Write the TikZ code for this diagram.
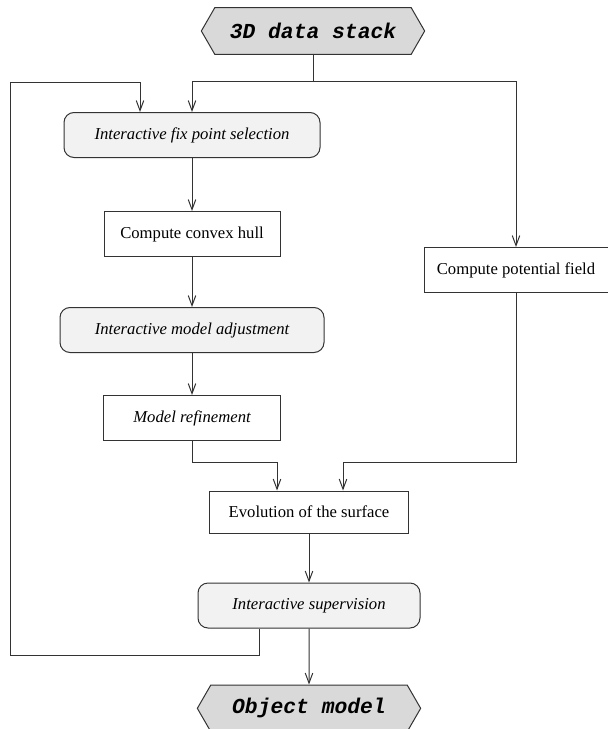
\documentclass[tikz,border=0pt]{standalone}
\usepackage{fontspec}
\setmainfont{Liberation Serif}
\setmonofont{Liberation Mono}
\usetikzlibrary{arrows.meta,positioning,calc,shapes.symbols}
\definecolor{termgray}{HTML}{D9D9D9}
\definecolor{softgray}{HTML}{F2F2F2}
\definecolor{linegray}{HTML}{333333}
\tikzset{
  proc/.style={
    rectangle,
    draw=linegray,
    fill=white,
    line width=0.6pt,
    align=center,
    minimum height=27pt,
    inner sep=0pt,
    font=\fontsize{10}{12}\selectfont
  },
  inter/.style={
    proc,
    rounded corners=6pt,
    fill=softgray,
    font=\fontsize{10}{12}\selectfont\itshape
  },
  term/.style={
    signal,
    signal to=west and east,
    signal pointer angle=120,
    draw=linegray,
    fill=termgray,
    line width=0.6pt,
    minimum width=134pt,
    minimum height=28pt,
    inner sep=0pt,
    font=\fontsize{12.8}{15}\selectfont\ttfamily\bfseries\itshape
  },
  line/.style={-{Straight Barb[length=6pt,width=4.5pt]}, line width=0.6pt, draw=linegray}
}

\begin{document}
\begin{tikzpicture}[x=0.6pt,y=-0.6pt]
  \useasboundingbox (0,0) rectangle (608,729);

  \node[term] (stack) at (313,31) {3D data stack};
  \node[inter, minimum width=153.6pt] (fixsel) at (192,135) {Interactive fix point selection};
  \node[proc, minimum width=105.6pt, below=31.8pt of fixsel] (hull) {Compute convex hull};
  \node[inter, minimum width=158.4pt, below=30pt of hull] (adjust) {Interactive model adjustment};
  \node[proc, minimum width=106.2pt, below=25.2pt of adjust, font=\fontsize{10}{12}\selectfont\itshape] (refine) {Model refinement};
  \node[proc, minimum width=110.4pt] (potential) at (516,270) {Compute potential field};
  \node[proc, minimum width=119.4pt, minimum height=25.2pt] (evol) at (309,512) {Evolution of the surface};
  \node[inter, minimum width=133.2pt, below=29.4pt of evol] (superv) {Interactive supervision};
  \node[term, below=33.6pt of superv] (model) {Object model};

  \coordinate (split) at (313,81);
  \coordinate (joinL) at (277,462);
  \coordinate (joinR) at (343,462);
  \coordinate (backB) at (10,655);
  \coordinate (backT) at (10,82);

  \draw[line width=0.6pt, draw=linegray] (stack.south) -- (split);
  \draw[line] (split) -| (fixsel);
  \draw[line] (split) -| (potential);
  \draw[line] (fixsel) -- (hull);
  \draw[line] (hull) -- (adjust);
  \draw[line] (adjust) -- (refine);
  \draw[line] (refine) |- (joinL) -- (joinL |- evol.north);
  \draw[line] (potential) |- (joinR) -- (joinR |- evol.north);
  \draw[line] (evol) -- (superv);
  \draw[line] (superv) -- (model);
  \draw[line] ($(superv.south)+(-50,0)$) |- (backB) -- (backT) -| ($(fixsel.north)+(-52,0)$);
\end{tikzpicture}
\end{document}
